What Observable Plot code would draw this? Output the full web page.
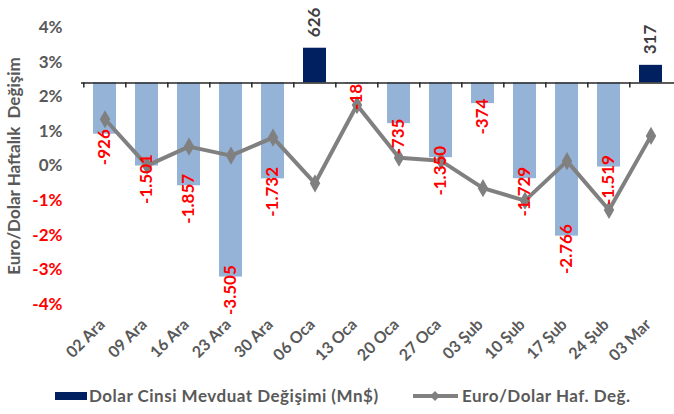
<!DOCTYPE html>
<html>
<head>
<meta charset="utf-8">
<script src="https://cdn.jsdelivr.net/npm/d3@7"></script>
<script src="https://cdn.jsdelivr.net/npm/@observablehq/plot@0.6"></script>
<style>
  html, body { margin: 0; padding: 0; background: #fff; }
  #wrap { width: 674px; height: 414px; position: relative; font-family: Lato, "Open Sans", sans-serif; }
  #legend { position: relative; height: 36px; width: 674px; }
  .lg-text { position: absolute; top: 7px; font-size: 17px; font-weight: bold; color: #595959; line-height: 22px; white-space: nowrap; letter-spacing: 0.5px; }
</style>
</head>
<body>
<div id="wrap"></div>
<script>
// ---- data ----
const dates = ["02 Ara","09 Ara","16 Ara","23 Ara","30 Ara","06 Oca","13 Oca","20 Oca","27 Oca","03 Şub","10 Şub","17 Şub","24 Şub","03 Mar"];
const deposit = [-926,-1501,-1857,-3505,-1732,626,-18,-735,-1350,-374,-1729,-2766,-1519,317]; // Mn$
const euroUsd = [1.35,0.01,0.56,0.30,0.82,-0.50,1.76,0.24,0.15,-0.64,-1.00,0.14,-1.27,0.87]; // %
const leftTicks = [-4,-3,-2,-1,0,1,2,3,4];
const leftDomain = [-4, 4];
const rightDomain = [-4000, 1000]; // hidden secondary axis for deposits
const seriesNames = ["Dolar Cinsi Mevduat Değişimi (Mn$)", "Euro/Dolar Haf. Değ."];
const yTitle = "Euro/Dolar Haftalık \u00A0Değişim";

// ---- build ----
const rows = dates.map((date, i) => ({date, dep: deposit[i], eur: euroUsd[i]}));
const toLeft = d3.scaleLinear().domain(rightDomain).range(leftDomain);
const base = toLeft(0);
const fmt = d3.formatLocale({decimal: ",", thousands: ".", grouping: [3], currency: ["", ""], minus: "-"}).format(",");

const W = 674, H = 378, ML = 81, MR = 0;
const step = (W - ML - MR) / dates.length;

const navy = "#002060", light = "#95B3D7", gray = "#808080", txt = "#595959", red = "#FF0000";
const font = {fontSize: 17, fontWeight: "bold"};

const chart = Plot.plot({
  width: W, height: H,
  marginLeft: ML, marginRight: MR, marginTop: 27, marginBottom: 74,
  style: {fontFamily: "Lato, 'Open Sans', sans-serif", background: "#fff", overflow: "visible"},
  x: {type: "band", domain: dates, paddingInner: 0.46, paddingOuter: 0.23, axis: null},
  y: {domain: leftDomain, axis: null},
  marks: [
    Plot.barY(rows, {x: "date", y1: () => base, y2: d => toLeft(d.dep), fill: d => d.dep >= 0 ? navy : light}),
    Plot.ruleY([base], {stroke: "#262626", strokeWidth: 1.5}),
    Plot.ruleX(rows, {x: "date", y1: () => base, y2: () => base - 0.15, dx: -step / 2, stroke: "#262626", strokeWidth: 1.5}),
    Plot.line(rows, {x: "date", y: "eur", stroke: gray, strokeWidth: 4, strokeLinejoin: "round"}),
    Plot.dot(rows, {x: "date", y: "eur", symbol: "diamond", r: 5.5, fill: gray, stroke: "none"}),
    Plot.text(rows.filter(d => d.dep < 0), {x: "date", y: d => toLeft(d.dep), text: d => fmt(d.dep), rotate: -90, textAnchor: "middle", dy: 13, fill: red, ...font}),
    Plot.text(rows.filter(d => d.dep >= 0), {x: "date", y: d => toLeft(d.dep), text: d => fmt(d.dep), rotate: -90, textAnchor: "start", dy: -11, fill: "#404040", ...font}),
    Plot.text(leftTicks, {y: d => d, text: d => d + "%", frameAnchor: "left", textAnchor: "end", dx: -19, fill: d => d < 0 ? red : txt, ...font}),
    Plot.text([yTitle], {text: d => d, frameAnchor: "left", textAnchor: "middle", rotate: -90, dx: -67, fill: txt, fontSize: 17, fontWeight: "bold", letterSpacing: "0.5px"}),
    Plot.text(rows, {x: "date", text: "date", frameAnchor: "bottom", rotate: -45, textAnchor: "end", dx: 1, dy: 21, fill: txt, fontSize: 16, fontWeight: "bold"})
  ]
});
document.getElementById("wrap").appendChild(chart);

// ---- legend ----
const lg = document.createElement("div");
lg.id = "legend";
lg.innerHTML = `
  <svg width="674" height="36" style="position:absolute;left:0;top:0">
    <rect x="55" y="14" width="32" height="8" fill="${navy}"></rect>
    <line x1="413" x2="458" y1="18" y2="18" stroke="${gray}" stroke-width="4"></line>
    <path d="M435,13 L440,18 L435,23 L430,18 Z" fill="${gray}"></path>
  </svg>
  <span class="lg-text" style="left:89px">${seriesNames[0]}</span>
  <span class="lg-text" style="left:462px">${seriesNames[1]}</span>`;
document.getElementById("wrap").appendChild(lg);
</script>
</body>
</html>
